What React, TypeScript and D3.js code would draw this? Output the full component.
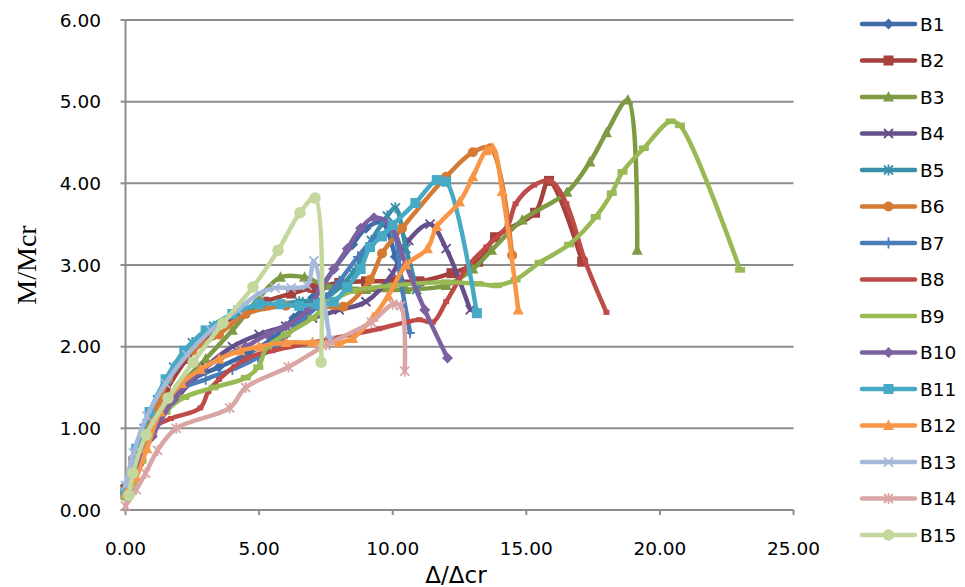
import React from "react";
import * as d3 from "d3";

type P = [number, number];

const X_TICKS = [0, 5, 10, 15, 20, 25];
const Y_TICKS = [0, 1, 2, 3, 4, 5, 6];
const SERIES_NAMES = ["B1","B2","B3","B4","B5","B6","B7","B8","B9","B10","B11","B12","B13","B14","B15"];
const COLORS = ["#3D6CA8","#A5403D","#7E9B44","#65508B","#3790A8","#D47A34","#4A7EBB","#BE4B48","#98B954","#7D60A0","#46AAC5","#F79646","#A5B9DA","#D9A6A5","#C4D79D"];
const MARKERS = ["diamond","square","triangle","x","star","circle","plus","dash","dash2","diamond","square","triangle","x","star","circle"];

const B1: P[] = [[0,0.3],[0.4,0.62],[0.9,1.0],[1.6,1.35],[2.5,1.6],[3.5,1.75],[4.5,1.9],[5.5,2.1],[6.3,2.35],[7.0,2.6],[7.8,2.95],[8.5,3.25],[9.0,3.45],[9.6,3.52],[10.1,3.1],[10.4,2.75]];
const B2: P[] = [[0,0.25],[0.3,0.6],[0.8,1.0],[1.5,1.45],[2.3,1.85],[3.2,2.15],[4.2,2.4],[5.2,2.55],[6.2,2.65],[7.0,2.72],[8.0,2.78],[9.0,2.8],[10.0,2.8],[11.0,2.8],[12.2,2.9],[13.2,3.04],[13.83,3.34],[15.33,3.64],[15.85,4.03],[17.09,3.04]];
const B3: P[] = [[0,0.3],[0.5,0.6],[1.0,1.0],[2.0,1.5],[3.0,1.85],[4.0,2.2],[5.0,2.6],[5.8,2.85],[6.7,2.85],[7.5,2.75],[9.0,2.7],[10.5,2.7],[12.0,2.75],[13.0,2.95],[13.7,3.18],[14.85,3.55],[16.52,3.89],[17.38,4.26],[18.0,4.62],[18.8,5.02],[19.15,3.18]];
const B4: P[] = [[0,0.2],[0.5,0.6],[1.0,0.95],[2.0,1.4],[3.0,1.75],[4.0,2.0],[5.0,2.15],[6.0,2.25],[7.0,2.35],[8.0,2.45],[9.0,2.55],[10.0,2.9],[10.6,3.3],[11.4,3.5],[12.0,3.2],[12.9,2.45]];
const B5: P[] = [[0,0.2],[0.3,0.6],[0.7,1.0],[1.2,1.35],[1.8,1.75],[2.5,2.05],[3.3,2.25],[4.2,2.4],[5.2,2.5],[6.5,2.55],[7.5,2.6],[8.5,2.9],[9.2,3.3],[9.8,3.6],[10.1,3.7],[10.5,3.2],[10.9,2.7]];
const B6: P[] = [[0,0.2],[0.5,0.75],[1.2,1.25],[1.6,1.6],[2.5,1.95],[3.5,2.15],[4.5,2.4],[6.0,2.5],[7.2,2.5],[8.15,2.49],[9.15,2.82],[9.6,3.14],[10.35,3.45],[12.0,4.08],[13.0,4.38],[13.65,4.43],[14.47,3.12]];
const B7: P[] = [[0,0.18],[0.4,0.6],[1.0,1.0],[1.8,1.43],[3.0,1.6],[4.0,1.72],[4.96,1.87],[5.8,2.05],[6.5,2.3],[7.2,2.5],[8.0,2.8],[8.7,3.1],[9.4,3.35],[10.0,3.4],[10.3,2.8],[10.65,2.17]];
const B8: P[] = [[0,0.2],[0.5,0.7],[1.0,1.0],[1.7,1.12],[2.8,1.25],[3.1,1.45],[3.5,1.6],[4.5,1.85],[5.5,1.95],[7.0,2.05],[8.5,2.15],[9.5,2.22],[10.5,2.3],[11.0,2.33],[11.5,2.3],[12.0,2.55],[12.8,2.98],[13.5,3.22],[14.3,3.48],[14.6,3.75],[15.3,3.98],[15.9,4.03],[16.5,3.75],[17.2,3.05],[18.0,2.42]];
const B9: P[] = [[0,0.15],[0.3,0.3],[0.6,0.6],[1.0,0.95],[1.5,1.2],[2.2,1.38],[3.3,1.5],[4.5,1.62],[4.97,1.75],[5.3,2.0],[6.0,2.15],[7.0,2.35],[7.7,2.55],[8.5,2.68],[10.0,2.75],[12.0,2.79],[13.2,2.77],[13.9,2.75],[14.6,2.82],[15.5,3.03],[16.6,3.25],[17.6,3.59],[18.2,3.88],[18.6,4.14],[19.4,4.43],[20.4,4.76],[20.75,4.71],[23.0,2.94]];
const B10: P[] = [[0,0.2],[0.5,0.55],[1.0,0.9],[1.8,1.35],[2.8,1.7],[3.5,1.85],[4.5,2.0],[5.3,2.15],[6.0,2.25],[6.8,2.45],[7.3,2.7],[7.8,2.95],[8.3,3.2],[8.8,3.45],[9.3,3.58],[9.9,3.5],[10.5,3.0],[11.2,2.45],[12.05,1.86]];
const B11: P[] = [[0,0.2],[0.4,0.75],[0.9,1.2],[1.5,1.6],[2.2,1.95],[3.0,2.2],[4.0,2.4],[5.0,2.52],[5.8,2.52],[6.5,2.5],[7.2,2.52],[7.8,2.55],[8.3,2.73],[8.8,2.95],[9.15,3.22],[9.6,3.35],[10.0,3.49],[10.85,3.76],[11.65,4.04],[12.0,4.02],[13.15,2.41]];
const B12: P[] = [[0,0.2],[0.4,0.4],[0.8,0.75],[1.3,1.2],[2.1,1.55],[2.8,1.72],[3.5,1.85],[4.3,1.95],[5.0,2.0],[6.0,2.05],[7.0,2.05],[8.0,2.05],[8.5,2.1],[9.27,2.36],[9.83,2.62],[10.5,3.0],[11.3,3.2],[11.65,3.47],[12.5,3.77],[13.0,4.08],[13.5,4.4],[13.75,4.43],[14.1,3.9],[14.7,2.45]];
const B13: P[] = [[0,0.3],[0.3,0.7],[0.8,1.15],[1.5,1.55],[2.3,1.9],[3.2,2.2],[4.2,2.45],[5.0,2.65],[5.6,2.72],[6.2,2.72],[6.8,2.75],[7.05,3.05],[7.65,2.08]];
const B14: P[] = [[0,0.05],[0.4,0.25],[0.75,0.45],[1.2,0.73],[1.9,1.0],[3.9,1.25],[4.5,1.5],[6.1,1.75],[7.5,2.02],[9.2,2.3],[10.0,2.52],[10.3,2.5],[10.45,1.7]];
const B15: P[] = [[0.13,0.18],[0.28,0.45],[0.77,0.92],[1.59,1.37],[2.53,1.81],[3.65,2.29],[4.77,2.73],[5.71,3.18],[6.53,3.64],[7.09,3.82],[7.32,1.81]];

const DATA: P[][] = [B1,B2,B3,B4,B5,B6,B7,B8,B9,B10,B11,B12,B13,B14,B15];

const W = 965, H = 587;
const x = d3.scaleLinear().domain([0, 25]).range([125.5, 793.5]);
const y = d3.scaleLinear().domain([0, 6]).range([510, 20]);
const fmt = d3.format(".2f");
const FONT = "'DejaVu Sans', sans-serif";

function Marker({ type, color, cx, cy }: { type: string; color: string; cx: number; cy: number }) {
  const t = `translate(${cx},${cy})`;
  switch (type) {
    case "diamond":
      return <path transform={t} d="M0,-5.5L5.5,0L0,5.5L-5.5,0Z" fill={color} />;
    case "square":
      return <rect transform={t} x={-5} y={-5} width={10} height={10} fill={color} />;
    case "triangle":
      return <path transform={t} d="M0,-6L5.5,4.5L-5.5,4.5Z" fill={color} />;
    case "x":
      return <path transform={t} d="M-4.5,-4.5L4.5,4.5M-4.5,4.5L4.5,-4.5" stroke={color} strokeWidth={1.8} fill="none" />;
    case "star":
      return <path transform={t} d="M-4.5,-4.5L4.5,4.5M-4.5,4.5L4.5,-4.5M0,-5.5L0,5.5" stroke={color} strokeWidth={1.8} fill="none" />;
    case "circle":
      return <circle cx={cx} cy={cy} r={color === COLORS[14] ? 5.8 : 5} fill={color} />;
    case "plus":
      return <path transform={t} d="M0,-5.5L0,5.5M-5,0L5,0" stroke={color} strokeWidth={1.8} fill="none" />;
    case "dash":
      return <rect transform={t} x={-3} y={-2.5} width={6} height={5} fill={color} />;
    case "dash2":
      return <rect transform={t} x={-5} y={-2.8} width={10} height={5.6} fill={color} />;
    default:
      return null;
  }
}

export default function App() {
  const line = d3.line<P>().x(d => x(d[0])).y(d => y(d[1])).curve(d3.curveCatmullRom.alpha(0.5));
  const legendX0 = 862, legendX1 = 915, legendY0 = 24, legendStep = 36.5;
  return (
    <svg width={W} height={H} style={{ position: "absolute", left: 0, top: 0, background: "#fff" }}>
      {/* gridlines */}
      {Y_TICKS.map(v => (
        <line key={"g" + v} x1={x(0)} x2={x(25)} y1={y(v)} y2={y(v)} stroke="#8c8c8c" strokeWidth={2} />
      ))}
      {/* axes */}
      <line x1={x(0)} x2={x(0)} y1={y(6)} y2={y(0)} stroke="#8c8c8c" strokeWidth={2} />
      {Y_TICKS.map(v => (
        <line key={"yt" + v} x1={x(0) - 5} x2={x(0)} y1={y(v)} y2={y(v)} stroke="#8c8c8c" strokeWidth={2} />
      ))}
      {X_TICKS.map(v => (
        <line key={"xt" + v} x1={x(v)} x2={x(v)} y1={y(0)} y2={y(0) + 5} stroke="#8c8c8c" strokeWidth={2} />
      ))}
      {Y_TICKS.map(v => (
        <text key={"yl" + v} x={101} y={y(v)} dy="0.36em" textAnchor="end" fontFamily={FONT} fontSize={18.5} fill="#000">{fmt(v)}</text>
      ))}
      {X_TICKS.map(v => (
        <text key={"xl" + v} x={x(v)} y={555} textAnchor="middle" fontFamily={FONT} fontSize={18.5} fill="#000">{fmt(v)}</text>
      ))}
      <text x={456} y={583} textAnchor="middle" fontFamily={FONT} fontSize={23} fill="#000">Δ/Δcr</text>
      <text transform={`translate(36,265) rotate(-90)`} textAnchor="middle" fontFamily="'Liberation Serif', 'DejaVu Serif', serif" fontSize={28} fill="#000">M/Mcr</text>
      {/* series */}
      {DATA.map((pts, i) => (
        <g key={"s" + i}>
          <path d={line(pts) || ""} fill="none" stroke={COLORS[i]} strokeWidth={4.5} strokeLinejoin="round" strokeLinecap="round" />
          {pts.map((p, j) => (
            <Marker key={j} type={MARKERS[i]} color={COLORS[i]} cx={x(p[0])} cy={y(p[1])} />
          ))}
        </g>
      ))}
      {/* legend */}
      {SERIES_NAMES.map((name, i) => {
        const ly = legendY0 + i * legendStep;
        return (
          <g key={"l" + i}>
            <line x1={legendX0} x2={legendX1} y1={ly} y2={ly} stroke={COLORS[i]} strokeWidth={4.5} strokeLinecap="round" />
            {MARKERS[i] !== "dash" && MARKERS[i] !== "dash2" && (
              <Marker type={MARKERS[i]} color={COLORS[i]} cx={(legendX0 + legendX1) / 2} cy={ly} />
            )}
            <text x={920} y={ly} dy="0.36em" fontFamily={FONT} fontSize={18.5} fill="#000">{name}</text>
          </g>
        );
      })}
    </svg>
  );
}
